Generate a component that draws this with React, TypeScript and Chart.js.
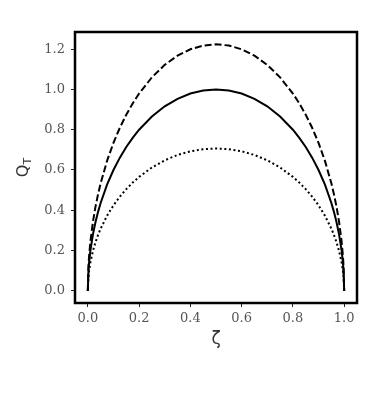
import React, { useEffect, useRef } from "react";
import { Chart, registerables } from "chart.js";

Chart.register(...registerables);

const zeta = [0, 0.0025, 0.005, 0.01, 0.02, 0.03, 0.04, 0.05, 0.075, 0.1, 0.125, 0.15, 0.175, 0.2, 0.25, 0.3, 0.35, 0.4, 0.45, 0.5, 0.55, 0.6, 0.65, 0.7, 0.75, 0.8, 0.825, 0.85, 0.875, 0.9, 0.925, 0.95, 0.96, 0.97, 0.98, 0.99, 0.995, 0.9975, 1.0];

const qSolid = [0, 0.0999, 0.1411, 0.199, 0.28, 0.3412, 0.3919, 0.4359, 0.5268, 0.6, 0.6614, 0.7141, 0.7599, 0.8, 0.866, 0.9165, 0.9539, 0.9798, 0.995, 1.0, 0.995, 0.9798, 0.9539, 0.9165, 0.866, 0.8, 0.7599, 0.7141, 0.6614, 0.6, 0.5268, 0.4359, 0.3919, 0.3412, 0.28, 0.199, 0.1411, 0.0999, 0];

const qDashed = [0, 0.1223, 0.1728, 0.2437, 0.3429, 0.4179, 0.48, 0.5338, 0.6452, 0.7348, 0.81, 0.8746, 0.9307, 0.9798, 1.0606, 1.1224, 1.1682, 1.2, 1.2186, 1.2247, 1.2186, 1.2, 1.1682, 1.1224, 1.0606, 0.9798, 0.9307, 0.8746, 0.81, 0.7348, 0.6452, 0.5338, 0.48, 0.4179, 0.3429, 0.2437, 0.1728, 0.1223, 0];

const qDotted = [0, 0.0706, 0.0998, 0.1407, 0.198, 0.2413, 0.2771, 0.3082, 0.3725, 0.4243, 0.4677, 0.5049, 0.5373, 0.5657, 0.6124, 0.6481, 0.6745, 0.6928, 0.7036, 0.7071, 0.7036, 0.6928, 0.6745, 0.6481, 0.6124, 0.5657, 0.5373, 0.5049, 0.4677, 0.4243, 0.3725, 0.3082, 0.2771, 0.2413, 0.198, 0.1407, 0.0998, 0.0706, 0];

const xTicks = [0, 0.2, 0.4, 0.6, 0.8, 1.0];
const yTicks = [0, 0.2, 0.4, 0.6, 0.8, 1.0, 1.2];

const pts = (ys: number[]) => zeta.map((x, i) => ({ x, y: ys[i] }));

const framePlugin = {
  id: "frameAndTitles",
  afterDraw(chart: any) {
    const { ctx, chartArea } = chart;
    const { left, top, right, bottom } = chartArea;
    ctx.save();
    ctx.strokeStyle = "#000";
    ctx.lineWidth = 2.5;
    ctx.strokeRect(left, top, right - left, bottom - top);

    // x title
    ctx.fillStyle = "#333";
    ctx.font = "17px 'DejaVu Sans'";
    ctx.textAlign = "center";
    ctx.textBaseline = "middle";
    ctx.fillText("ζ", (left + right) / 2, 340);

    // y title with subscript
    ctx.translate(28, (top + bottom) / 2);
    ctx.rotate(-Math.PI / 2);
    ctx.textAlign = "left";
    ctx.textBaseline = "alphabetic";
    ctx.font = "16px 'DejaVu Sans'";
    const wQ = ctx.measureText("Q").width;
    ctx.font = "11px 'DejaVu Sans'";
    const wT = ctx.measureText("T").width;
    const start = -(wQ + wT) / 2;
    ctx.font = "16px 'DejaVu Sans'";
    ctx.fillText("Q", start, 0);
    ctx.font = "11px 'DejaVu Sans'";
    ctx.fillText("T", start + wQ, 3);
    ctx.restore();
  },
};

export default function App() {
  const ref = useRef<HTMLCanvasElement>(null);
  useEffect(() => {
    const tickFont = { family: "'DejaVu Serif'", size: 13 };
    const chart = new Chart(ref.current!, {
      type: "line",
      data: {
        datasets: [
          { data: pts(qDashed), borderColor: "#000", borderWidth: 2, borderDash: [7, 3], pointRadius: 0, fill: false },
          { data: pts(qSolid), borderColor: "#000", borderWidth: 2, pointRadius: 0, fill: false },
          { data: pts(qDotted), borderColor: "#000", borderWidth: 2, borderDash: [2, 2.6], pointRadius: 0, fill: false },
        ],
      },
      options: {
        responsive: false,
        animation: false,
        layout: { padding: { left: 0, top: 32, right: 23, bottom: 0 } },
        plugins: { legend: { display: false }, tooltip: { enabled: false } },
        scales: {
          x: {
            type: "linear",
            min: -0.05,
            max: 1.05,
            afterBuildTicks: (s: any) => { s.ticks = xTicks.map((v) => ({ value: v })); },
            afterFit: (s: any) => { s.height = 97; },
            grid: { drawOnChartArea: false, tickLength: 4, tickColor: "#222", tickWidth: 1 },
            border: { display: false },
            ticks: { color: "#555", font: tickFont, padding: 4, maxRotation: 0, callback: (v: any) => Number(v).toFixed(1) },
          },
          y: {
            type: "linear",
            min: -0.0612,
            max: 1.2859,
            afterBuildTicks: (s: any) => { s.ticks = yTicks.map((v) => ({ value: v })); },
            afterFit: (s: any) => { s.width = 75; },
            grid: { drawOnChartArea: false, tickLength: 4, tickColor: "#222", tickWidth: 1 },
            border: { display: false },
            ticks: { color: "#555", font: tickFont, padding: 6, callback: (v: any) => Number(v).toFixed(1) },
          },
        },
      },
      plugins: [framePlugin],
    });
    return () => chart.destroy();
  }, []);
  return (
    <canvas
      ref={ref}
      width={380}
      height={400}
      style={{ position: "fixed", left: 0, top: 0, width: 380, height: 400 }}
    />
  );
}
